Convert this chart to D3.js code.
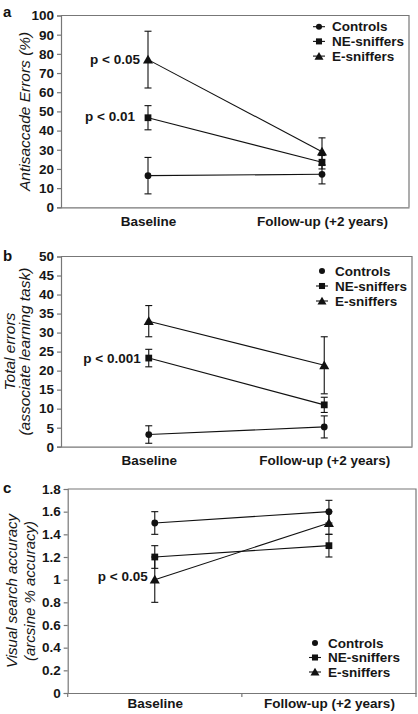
<!DOCTYPE html>
<html><head><meta charset="utf-8">
<script src="https://cdn.jsdelivr.net/npm/d3@7"></script>
<style>
body{margin:0;background:#fff;}
svg{display:block;font-family:"Liberation Sans",Arial,sans-serif;}
</style></head>
<body><svg id="chart" width="418" height="714"></svg>
<script>
// ---------- DATA ----------
const categories = ["Baseline", "Follow-up (+2 years)"];
const seriesNames = ["Controls", "NE-sniffers", "E-sniffers"];

// Panel a: Antisaccade errors (%)
const aControls = [16.5, 17.2];
const aControlsErr = [9.5, 5];
const aNE = [46.7, 23.5];
const aNEErr = [6.3, 3.5];
const aE = [77, 29];
const aEErr = [14.8, 7.2];
const aTicks = [0, 10, 20, 30, 40, 50, 60, 70, 80, 90, 100];
const aTickLabels = ["0", "10", "20", "30", "40", "50", "60", "70", "80", "90", "100"];

// Panel b: Total errors (associate learning task)
const bControls = [3.2, 5.2];
const bControlsErr = [2.3, 2.9];
const bNE = [23.3, 11];
const bNEErr = [2.3, 2];
const bE = [33, 21.4];
const bEErr = [4.1, 7.5];
const bTicks = [0, 5, 10, 15, 20, 25, 30, 35, 40, 45, 50];
const bTickLabels = ["0", "5", "10", "15", "20", "25", "30", "35", "40", "45", "50"];

// Panel c: Visual search accuracy (arcsine % accuracy)
const cControls = [1.5, 1.6];
const cControlsErr = [0.1, 0.1];
const cNE = [1.2, 1.3];
const cNEErr = [0.1, 0.1];
const cE = [1.0, 1.5];
const cEErr = [0.2, 0.1];
const cTicks = [0, 0.2, 0.4, 0.6, 0.8, 1.0, 1.2, 1.4, 1.6, 1.8];
const cTickLabels = ["0", "0.2", "0.4", "0.6", "0.8", "1", "1.2", "1.4", "1.6", "1.8"];

// ---------- DRAW ----------
const svg = d3.select("#chart");
const symbols = [d3.symbolCircle, d3.symbolSquare, d3.symbolTriangle];
const symSizes = [36, 46, 44];
const axisColor = "#777";
const txt = "#161616";

function panel(cfg) {
  const x = d3.scalePoint().domain(categories).range([cfg.left, cfg.right]).padding(0.5);
  const y = d3.scaleLinear().domain([0, cfg.max]).range([cfg.bottom, cfg.top]);
  const g = svg.append("g");

  // box (top & right)
  g.append("path")
    .attr("d", `M${cfg.left},${cfg.top}H${cfg.right}V${cfg.bottom}`)
    .attr("fill", "none").attr("stroke", axisColor).attr("stroke-width", 1.2);

  // y axis
  const yAxis = d3.axisLeft(y).tickValues(cfg.ticks).tickSize(4).tickPadding(3)
    .tickFormat((d, i) => cfg.tickLabels[i]);
  const ya = g.append("g").attr("transform", `translate(${cfg.left},0)`).call(yAxis);
  ya.select(".domain").attr("stroke", axisColor).attr("stroke-width", 1.2);
  ya.selectAll(".tick line").attr("stroke", axisColor).attr("stroke-width", 1.2);
  ya.selectAll(".tick text").attr("font-size", 13.5).attr("font-weight", "bold")
    .attr("fill", txt).attr("font-family", "Liberation Sans, Arial, sans-serif");

  // x axis
  const xa = g.append("g").attr("transform", `translate(0,${cfg.bottom})`)
    .call(d3.axisBottom(x).tickSize(0).tickPadding(cfg.xPad));
  xa.select(".domain").attr("stroke", axisColor).attr("stroke-width", 1.2);
  xa.selectAll(".tick text").attr("font-size", 13.5).attr("font-weight", "bold")
    .attr("fill", txt).attr("font-family", "Liberation Sans, Arial, sans-serif");
  if (cfg.midTick) {
    const bounds = [cfg.left, (x(categories[0]) + x(categories[1])) / 2, cfg.right];
    g.selectAll(".xt").data(bounds).enter().append("line")
      .attr("x1", d => d).attr("x2", d => d)
      .attr("y1", cfg.bottom).attr("y2", cfg.bottom + 4)
      .attr("stroke", axisColor).attr("stroke-width", 1.2);
  }

  // series
  cfg.series.forEach((s, si) => {
    const pts = s.values.map((v, i) => ({ c: categories[i], v, e: s.err[i] }));
    g.append("path").datum(pts)
      .attr("d", d3.line().x(d => x(d.c)).y(d => y(d.v)))
      .attr("fill", "none").attr("stroke", "#111").attr("stroke-width", 1.1);
    pts.forEach(p => {
      const cx = x(p.c);
      g.append("line").attr("x1", cx).attr("x2", cx)
        .attr("y1", y(p.v - p.e)).attr("y2", y(p.v + p.e))
        .attr("stroke", "#111").attr("stroke-width", 1.1);
      [p.v - p.e, p.v + p.e].forEach(ev => {
        g.append("line").attr("x1", cx - 3.5).attr("x2", cx + 3.5)
          .attr("y1", y(ev)).attr("y2", y(ev))
          .attr("stroke", "#111").attr("stroke-width", 1.1);
      });
      g.append("path").attr("d", d3.symbol(symbols[si], symSizes[si])())
        .attr("transform", `translate(${cx},${y(p.v) + (si === 2 ? 1 : 0)})`)
        .attr("fill", "#111");
    });
  });

  // legend
  seriesNames.forEach((name, i) => {
    const ly = cfg.legY + i * cfg.legStep;
    if (cfg.legendLines[i]) {
      g.append("line").attr("x1", cfg.legX - 6).attr("x2", cfg.legX + 6)
        .attr("y1", ly).attr("y2", ly).attr("stroke", "#111").attr("stroke-width", 1.1);
    }
    g.append("path").attr("d", d3.symbol(symbols[i], symSizes[i] * 0.8)())
      .attr("transform", `translate(${cfg.legX},${ly + (i === 2 ? 1 : 0)})`).attr("fill", "#111");
    g.append("text").attr("x", cfg.legX + 13).attr("y", ly).attr("dy", "0.35em")
      .attr("font-size", 13.5).attr("font-weight", "bold").attr("fill", txt).text(name);
  });

  // p-value labels
  cfg.pLabels.forEach(p => {
    g.append("text").attr("x", x(categories[0]) - p.dx).attr("y", y(p.v)).attr("dy", "0.35em")
      .attr("text-anchor", "end").attr("font-size", 13.5).attr("font-weight", "bold")
      .attr("fill", txt).text(p.text);
  });

  // y title
  const cy = (cfg.top + cfg.bottom) / 2 + cfg.titleDy;
  cfg.title.forEach((t, i) => {
    g.append("text")
      .attr("transform", `translate(${cfg.titleX[i]},${cy}) rotate(-90)`)
      .attr("text-anchor", "middle").attr("dy", "0.35em")
      .attr("font-size", cfg.titleSize).attr("font-style", "italic").attr("fill", txt)
      .text(t);
  });

  // panel letter
  g.append("text").attr("x", 3).attr("y", cfg.letterY).attr("font-size", 15)
    .attr("font-weight", "bold").attr("fill", "#111").text(cfg.letter);
}

panel({
  letter: "a", letterY: 17,
  left: 61, right: 409, top: 15.5, bottom: 207.3, max: 100,
  ticks: aTicks, tickLabels: aTickLabels, xPad: 9,
  series: [
    { values: aControls, err: aControlsErr },
    { values: aNE, err: aNEErr },
    { values: aE, err: aEErr }
  ],
  legX: 319, legY: 26.7, legStep: 14.7, legendLines: [true, true, true],
  pLabels: [{ text: "p < 0.05", v: 77, dx: 8 }, { text: "p < 0.01", v: 47.5, dx: 13 }],
  title: ["Antisaccade Errors (%)"], titleX: [25], titleSize: 15.5, titleDy: 0
});

panel({
  letter: "b", letterY: 261,
  left: 61, right: 412, top: 256.5, bottom: 446.7, max: 50,
  ticks: bTicks, tickLabels: bTickLabels, xPad: 9,
  series: [
    { values: bControls, err: bControlsErr },
    { values: bNE, err: bNEErr },
    { values: bE, err: bEErr }
  ],
  legX: 322, legY: 271, legStep: 15, legendLines: [false, true, true],
  pLabels: [{ text: "p < 0.001", v: 23.3, dx: 8 }],
  title: ["Total errors", "(associate learning task)"], titleX: [10, 25], titleSize: 15.5, titleDy: 0
});

panel({
  letter: "c", letterY: 493,
  left: 67.7, right: 416, top: 489, bottom: 693, max: 1.8,
  ticks: cTicks, tickLabels: cTickLabels, xPad: 5, midTick: true,
  series: [
    { values: cControls, err: cControlsErr },
    { values: cNE, err: cNEErr },
    { values: cE, err: cEErr }
  ],
  legX: 315, legY: 643, legStep: 14.5, legendLines: [false, true, true],
  pLabels: [{ text: "p < 0.05", v: 1.03, dx: 7 }],
  title: ["Visual search accuracy", "(arcsine % accuracy)"], titleX: [12, 30], titleSize: 15, titleDy: 0
});
</script>
</body></html>
